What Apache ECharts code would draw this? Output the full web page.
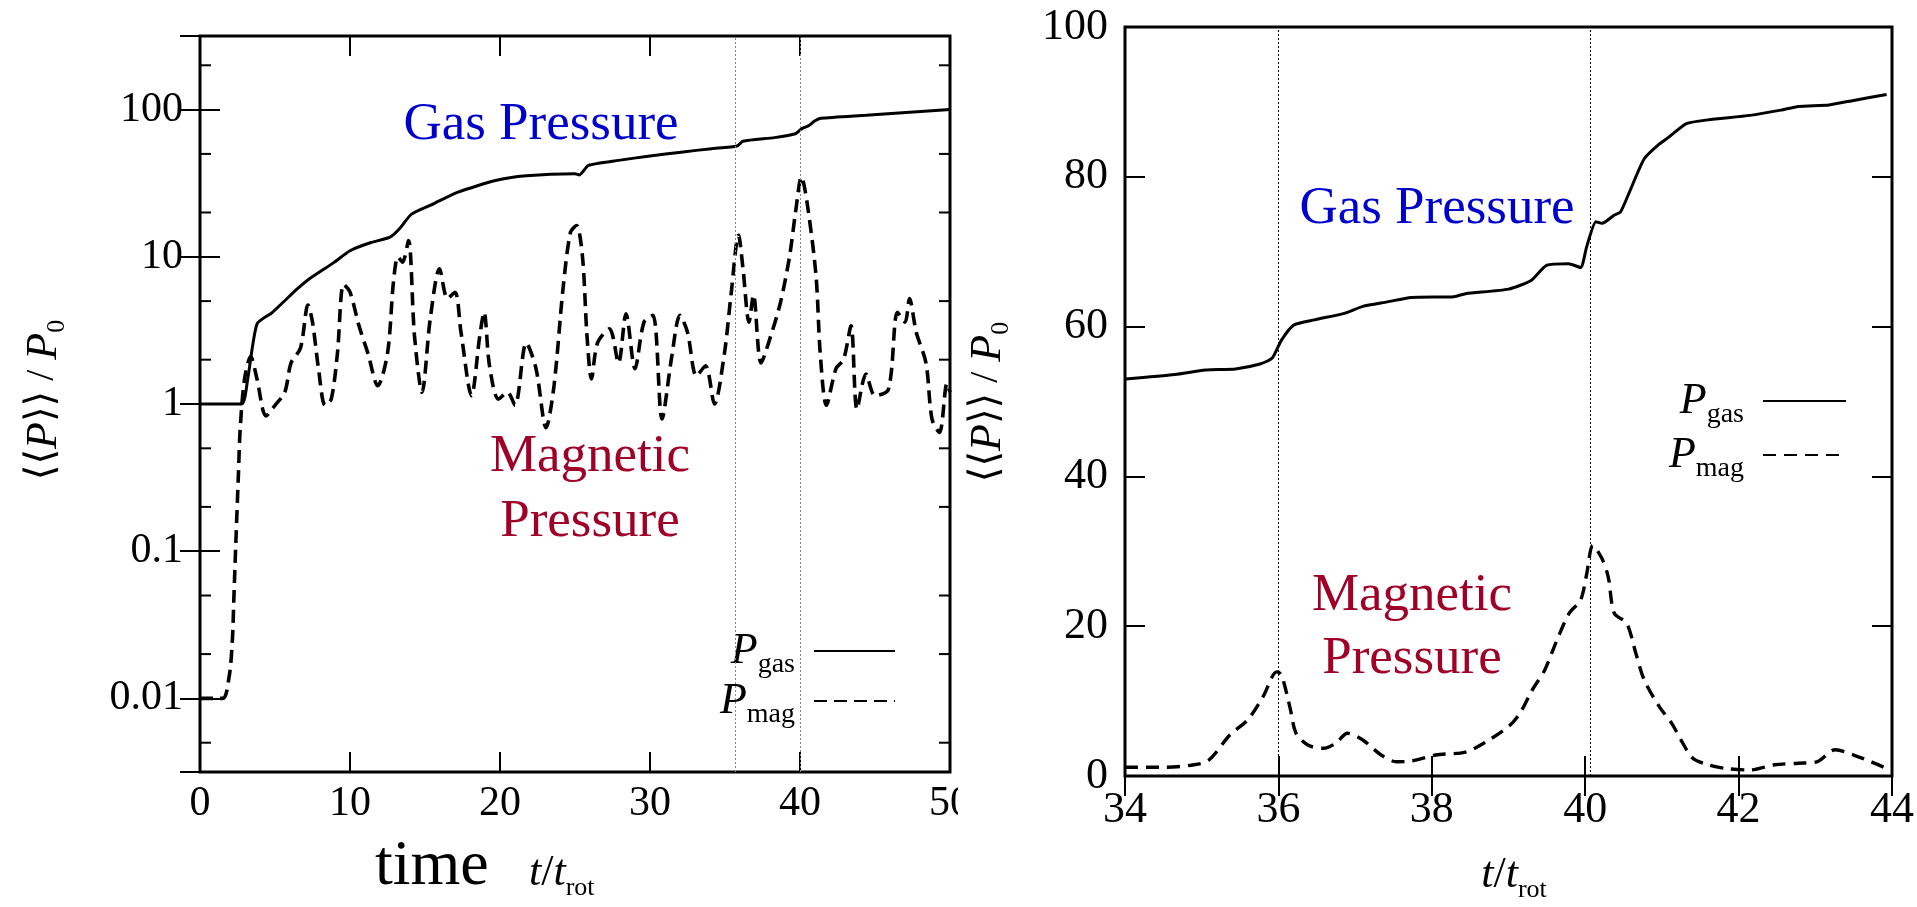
<!DOCTYPE html>
<html><head><meta charset="utf-8">
<script src="https://cdn.jsdelivr.net/npm/echarts@6/dist/echarts.min.js"></script>
<style>
html,body{margin:0;padding:0;background:#fff;width:1917px;height:907px;overflow:hidden;}
#wrapL{position:absolute;left:0;top:0;width:958px;height:907px;overflow:hidden;}
#left{position:absolute;left:0;top:0;width:1000px;height:907px;}
#right{position:absolute;left:958px;top:0;width:959px;height:907px;}
</style></head><body>
<div id="wrapL"><div id="left"></div></div>
<div id="right"></div>
<script>
// ---------- DATA ----------
// Left panel: full run, log scale  [t/t_rot, <<P>>/P0]
const gasLeft = [[0,1],[2.77,1],[3.18,1.48],[3.8,3.5],[4.83,4.2],[6.48,6.05],[7.3,7.1],[8.96,9.2],[10,11],[11.4,12.5],[12.67,13.6],[13.3,15.5],[14.1,19.5],[15.56,22.9],[17.2,27.5],[19.7,33],[21.75,35.5],[25,36.7],[25.3,36],[25.9,41.8],[27.9,45.2],[30,48.4],[32.07,51.4],[34.1,54.3],[35.8,56.6],[36.2,61],[38.3,64.5],[39.7,68.5],[40.1,74],[40.6,78],[41.0,84],[41.4,87.2],[44.4,91.4],[50,100]];
const magLeft = [[0,0.01],[1.5,0.01],[1.94,0.014],[2.15,0.024],[2.27,0.052],[2.39,0.115],[2.56,0.33],[2.68,0.68],[2.97,1.48],[3.38,2.1],[3.8,1.48],[4.4,0.83],[5.0,0.98],[5.65,1.2],[6.07,1.9],[6.7,2.4],[7.2,4.7],[7.5,3.6],[7.9,1.74],[8.34,0.98],[8.75,1.08],[9.16,2.2],[9.57,6.5],[10,5.75],[10.6,3.4],[11.2,2.2],[11.85,1.33],[12.5,2.2],[12.9,6.8],[13.2,10],[13.5,9.2],[13.9,12.9],[14.3,2.9],[14.8,1.2],[15.35,3.8],[15.97,8.3],[16.5,5.2],[17,5.75],[17.4,3.07],[18.1,1.14],[18.65,2.9],[18.94,4.2],[19.3,1.82],[19.9,1.08],[20.5,1.2],[21,0.98],[21.75,2.6],[22.4,1.74],[23.07,0.69],[23.6,1.33],[24.2,6.05],[24.7,14.7],[25.1,16.3],[25.5,10],[25.8,2.9],[26.1,1.48],[26.5,2.6],[27.3,3.24],[27.9,1.9],[28.4,4.1],[29,1.74],[29.6,3.6],[30.2,4.0],[30.8,0.79],[31.45,2.1],[32,4.0],[32.5,3.07],[33.1,1.55],[33.7,1.82],[34.3,1.0],[34.96,2.2],[35.4,5.5],[35.9,14],[36.2,8.3],[36.6,3.6],[36.9,5.5],[37.4,1.9],[38.05,2.9],[38.7,4.9],[39.3,10],[39.7,20],[40.1,34.9],[40.5,22.3],[41.07,7.4],[41.35,2.2],[41.76,0.98],[42.4,1.74],[42.9,2.0],[43.4,3.4],[43.8,0.92],[44.4,1.6],[45,1.14],[45.9,1.26],[46.5,4.2],[47,3.6],[47.3,5.2],[47.75,3.07],[48.4,1.9],[48.8,0.79],[49.3,0.64],[49.8,1.38],[50,1.2]];
const vLinesLeft = [35.7, 40.0];
const xRangeLeft = [0, 50];
const xIntervalLeft = 10;
const yLogTicksLeft = [0.01, 0.1, 1, 10, 100];
const yTickLabelsLeft = ['0.01', '0.1', '1', '10', '100'];
const yMinorTicksLeft = [0.005, 0.02, 0.05, 0.2, 0.5, 2, 5, 20, 50, 200];

// Right panel: zoom 34-44, linear scale
const gasRight = [[34.0,53.0],[34.65,53.6],[35.05,54.2],[35.44,54.35],[35.76,55],[35.92,55.8],[36.04,58.2],[36.2,60.2],[36.47,60.9],[36.87,61.8],[37.1,62.7],[37.42,63.3],[37.73,63.9],[38.29,64],[38.44,64.4],[39.0,65],[39.3,66.2],[39.5,68.2],[39.78,68.4],[39.94,67.9],[40.02,70.7],[40.14,74],[40.22,73.8],[40.38,74.9],[40.46,75.3],[40.57,77.8],[40.77,82.4],[40.97,84.4],[41.09,85.3],[41.32,87.1],[41.6,87.6],[42.15,88.2],[42.55,88.9],[42.78,89.4],[43.18,89.6],[43.5,90.2],[43.93,91]];
const magRight = [[34.0,1.16],[34.5,1.16],[34.9,1.5],[35.09,2.1],[35.37,5.5],[35.6,7.5],[35.8,10.6],[35.98,13.9],[36.04,13.5],[36.15,9.2],[36.23,5.7],[36.39,4.1],[36.59,3.7],[36.75,4.4],[36.9,5.7],[37.1,4.8],[37.34,2.8],[37.54,1.9],[37.73,2.0],[38.05,2.8],[38.44,3.2],[38.68,4.4],[39.0,6.6],[39.15,8.4],[39.31,11.5],[39.47,14.1],[39.63,18.1],[39.79,21.7],[39.94,23.5],[40.02,27],[40.1,30.8],[40.22,29],[40.3,26.6],[40.38,21.7],[40.54,20.4],[40.66,16.4],[40.77,12.8],[40.97,9.2],[41.13,7.0],[41.25,4.8],[41.4,2.4],[41.6,1.5],[41.84,1.0],[42.15,0.8],[42.47,1.5],[42.78,1.7],[43.02,1.9],[43.26,3.5],[43.5,2.8],[43.73,1.9],[43.93,1.0]];
const vLinesRight = [36.0, 40.07];
const xRangeRight = [34, 44];
const xIntervalRight = 2;
const yRangeRight = [0, 100];
const yIntervalRight = 20;

// ---------- STYLE ----------
const SERIF = "'Liberation Serif','DejaVu Serif',serif";
const BLUE = '#0000cc', RED = '#a00028';

const legendRich = {
  p: {fontFamily: SERIF, fontStyle: 'italic', fontSize: 44, lineHeight: 44, verticalAlign: 'top', color: '#000'},
  s: {fontFamily: SERIF, fontSize: 28, lineHeight: 28, padding: [22, 14, 0, 0], verticalAlign: 'top', color: '#000'}
};
const legendFmt = n => n === 'Pgas' ? '{p|P}{s|gas}' : '{p|P}{s|mag}';

const yNameRich = {
  a: {fontFamily: SERIF, fontSize: 40, lineHeight: 46, verticalAlign: 'top', color: '#000'},
  i: {fontFamily: SERIF, fontStyle: 'italic', fontSize: 44, lineHeight: 46, verticalAlign: 'top', color: '#000'},
  s: {fontFamily: SERIF, fontSize: 26, lineHeight: 26, padding: [22, 0, 0, 0], verticalAlign: 'top', color: '#000'}
};
const yNameText = '{a|⟨⟨}{i|P}{a|⟩⟩ / }{i|P}{s|0}';

const xNameRich = {
  i: {fontFamily: SERIF, fontStyle: 'italic', fontSize: 44, lineHeight: 48, verticalAlign: 'top', color: '#000'},
  n: {fontFamily: SERIF, fontSize: 44, lineHeight: 48, verticalAlign: 'top', color: '#000'},
  s: {fontFamily: SERIF, fontSize: 26, lineHeight: 26, padding: [24, 0, 0, 0], verticalAlign: 'top', color: '#000'}
};
const xNameText = '{i|t}{n|/}{i|t}{s|rot}';

function minorTickSeries(vals, x0, x1, len) {
  return {
    type: 'custom', silent: true, clip: false, z: 6,
    data: vals.map(v => [x0, v]),
    renderItem: (params, api) => {
      const v = api.value(1);
      const a = api.coord([x0, v]);
      const b = api.coord([x1, v]);
      return {type: 'group', children: [
        {type: 'line', shape: {x1: a[0], y1: a[1], x2: a[0] + len, y2: a[1]}, style: {stroke: '#000', lineWidth: 2}},
        {type: 'line', shape: {x1: b[0] - len, y1: b[1], x2: b[0], y2: b[1]}, style: {stroke: '#000', lineWidth: 2}}
      ]};
    }
  };
}

const tickStyle = {inside: true, length: 20, lineStyle: {color: '#000', width: 2}};
const legendBase = {
  orient: 'vertical', align: 'right', itemHeight: 14, formatter: legendFmt,
  textStyle: {rich: legendRich}, lineStyle: {width: 2},
  itemStyle: {opacity: 0, borderWidth: 0}
};

// ---------- LEFT CHART ----------
const left = echarts.init(document.getElementById('left'));
const logFmt = v => {
  for (let k = 0; k < yLogTicksLeft.length; k++) {
    if (Math.abs(Math.log10(v) - Math.log10(yLogTicksLeft[k])) < 1e-6) return yTickLabelsLeft[k];
  }
  return '';
};
left.setOption({
  animation: false,
  grid: {left: 200, top: 36, width: 750, height: 736, show: true, borderColor: '#000', borderWidth: 3, backgroundColor: 'rgba(0,0,0,0)'},
  xAxis: [
    {type: 'value', min: xRangeLeft[0], max: xRangeLeft[1], interval: xIntervalLeft, position: 'bottom',
     axisLine: {show: false}, axisTick: tickStyle, splitLine: {show: false},
     axisLabel: {fontFamily: SERIF, fontSize: 42, color: '#000', margin: 11, showMinLabel: true, showMaxLabel: true}},
    {type: 'value', min: xRangeLeft[0], max: xRangeLeft[1], interval: xIntervalLeft, position: 'top',
     axisLine: {show: false}, axisTick: tickStyle, splitLine: {show: false}, axisLabel: {show: false}}
  ],
  yAxis: [
    {type: 'log', logBase: 10, min: Math.pow(10, -2.5), max: Math.pow(10, 2.5), position: 'left',
     axisLine: {show: false}, axisTick: tickStyle, splitLine: {show: false}, minorTick: {show: false},
     axisLabel: {fontFamily: SERIF, fontSize: 42, color: '#000', margin: 17, formatter: logFmt, showMinLabel: true, showMaxLabel: true}},
    {type: 'log', logBase: 10, min: Math.pow(10, -2.5), max: Math.pow(10, 2.5), position: 'right',
     axisLine: {show: false}, axisTick: tickStyle, splitLine: {show: false}, axisLabel: {show: false}}
  ],
  legend: Object.assign({data: ['Pgas', 'Pmag'], right: 99, top: 624, itemWidth: 81, itemGap: 0}, legendBase),
  series: [
    {name: 'Pgas', type: 'line', data: gasLeft, symbol: 'none', smooth: 0.2, z: 3,
     lineStyle: {color: '#000', width: 3, type: 'solid'}, itemStyle: {color: '#000'}},
    {name: 'Pmag', type: 'line', data: magLeft, symbol: 'none', smooth: 0.3, z: 3,
     lineStyle: {color: '#000', width: 3.6, type: [13, 7]}, itemStyle: {color: '#000'},
     markLine: {silent: true, symbol: 'none', label: {show: false},
       lineStyle: {color: '#888', type: [2, 2], width: 1},
       data: vLinesLeft.map(x => ({xAxis: x}))}},
    minorTickSeries(yMinorTicksLeft, xRangeLeft[0], xRangeLeft[1], 11)
  ],
  graphic: [
    {type: 'text', x: 541, y: 125, z: 10, style: {text: 'Gas Pressure', fill: BLUE, font: '53px ' + SERIF, align: 'center', verticalAlign: 'middle'}},
    {type: 'text', x: 590, y: 490, z: 10, style: {text: 'Magnetic\nPressure', fill: RED, font: '53px ' + SERIF, lineHeight: 65, align: 'center', verticalAlign: 'middle'}},
    {type: 'text', x: 45, y: 400, rotation: Math.PI / 2, z: 10, style: {text: yNameText, rich: yNameRich, align: 'center', verticalAlign: 'middle'}},
    {type: 'text', x: 375, y: 867, z: 10, style: {text: 'time', fill: '#000', font: '64px ' + SERIF, align: 'left', verticalAlign: 'middle'}},
    {type: 'text', x: 529, y: 851, z: 10, style: {text: xNameText, rich: xNameRich, align: 'left', verticalAlign: 'top'}}
  ]
});

// ---------- RIGHT CHART ----------
const right = echarts.init(document.getElementById('right'));
right.setOption({
  animation: false,
  grid: {left: 167, top: 27, right: 10, bottom: 131, show: true, borderColor: '#000', borderWidth: 3, backgroundColor: 'rgba(0,0,0,0)'},
  xAxis: [
    {type: 'value', min: xRangeRight[0], max: xRangeRight[1], interval: xIntervalRight, position: 'bottom',
     axisLine: {show: false}, axisTick: tickStyle, splitLine: {show: false},
     axisLabel: {fontFamily: SERIF, fontSize: 44, color: '#000', margin: 12, showMinLabel: true, showMaxLabel: true}},
    {type: 'value', min: xRangeRight[0], max: xRangeRight[1], interval: xIntervalRight, position: 'top',
     axisLine: {show: false}, axisTick: tickStyle, splitLine: {show: false}, axisLabel: {show: false}}
  ],
  yAxis: [
    {type: 'value', min: yRangeRight[0], max: yRangeRight[1], interval: yIntervalRight, position: 'left',
     axisLine: {show: false}, axisTick: tickStyle, splitLine: {show: false},
     axisLabel: {fontFamily: SERIF, fontSize: 44, color: '#000', margin: 17, showMinLabel: true, showMaxLabel: true}},
    {type: 'value', min: yRangeRight[0], max: yRangeRight[1], interval: yIntervalRight, position: 'right',
     axisLine: {show: false}, axisTick: tickStyle, splitLine: {show: false}, axisLabel: {show: false}}
  ],
  legend: Object.assign({data: ['Pgas', 'Pmag'], right: 65, top: 374, itemWidth: 83, itemGap: 4}, legendBase),
  series: [
    {name: 'Pgas', type: 'line', data: gasRight, symbol: 'none', smooth: 0.2, z: 3,
     lineStyle: {color: '#000', width: 3, type: 'solid'}, itemStyle: {color: '#000'}},
    {name: 'Pmag', type: 'line', data: magRight, symbol: 'none', smooth: 0.3, z: 3,
     lineStyle: {color: '#000', width: 3.4, type: [13, 8]}, itemStyle: {color: '#000'},
     markLine: {silent: true, symbol: 'none', label: {show: false},
       lineStyle: {color: '#000', type: [2, 2], width: 1},
       data: vLinesRight.map(x => ({xAxis: x}))}}
  ],
  graphic: [
    {type: 'text', x: 479, y: 209, z: 10, style: {text: 'Gas Pressure', fill: BLUE, font: '53px ' + SERIF, align: 'center', verticalAlign: 'middle'}},
    {type: 'text', x: 454, y: 628, z: 10, style: {text: 'Magnetic\nPressure', fill: RED, font: '53px ' + SERIF, lineHeight: 63, align: 'center', verticalAlign: 'middle'}},
    {type: 'text', x: 31, y: 402, rotation: Math.PI / 2, z: 10, style: {text: yNameText, rich: yNameRich, align: 'center', verticalAlign: 'middle'}},
    {type: 'text', x: 556, y: 853, z: 10, style: {text: xNameText, rich: xNameRich, align: 'center', verticalAlign: 'top'}}
  ]
});
</script>
</body></html>
